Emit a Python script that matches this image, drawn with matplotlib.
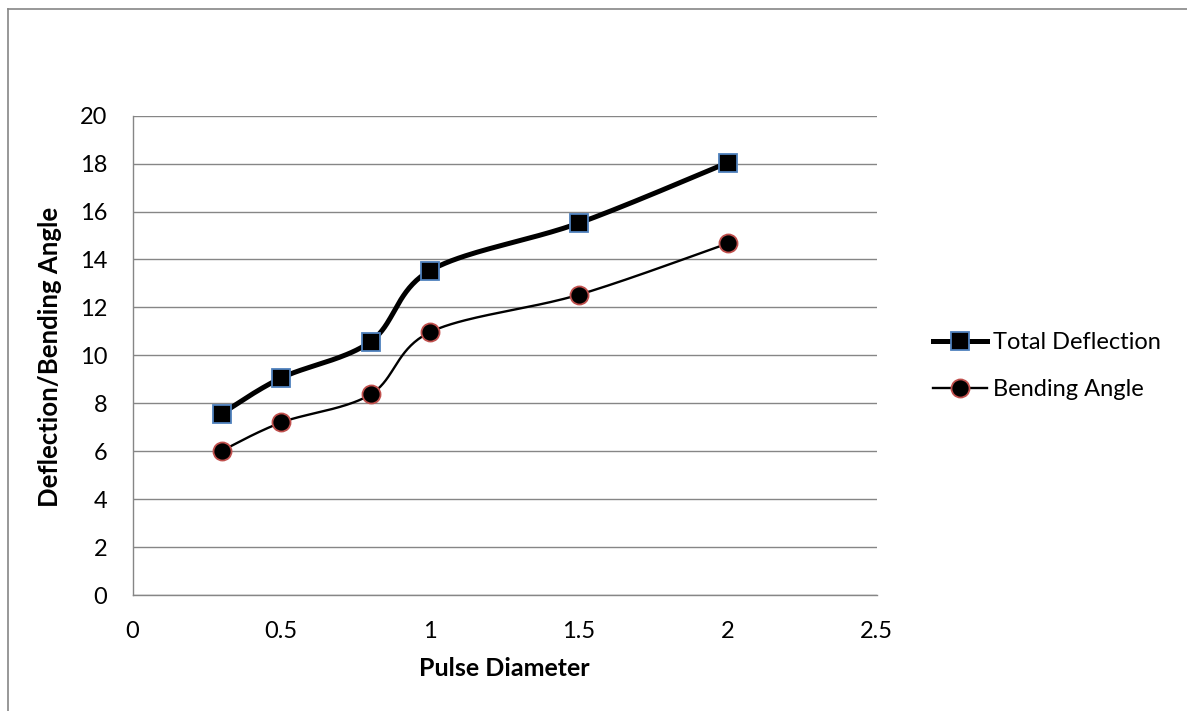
import numpy as np
import matplotlib
matplotlib.use("Agg")
import matplotlib.pyplot as plt
from matplotlib.lines import Line2D

# ---- data ----
pulse_diameter = [0.3, 0.5, 0.8, 1.0, 1.5, 2.0]
total_deflection = [7.57, 9.06, 10.57, 13.54, 15.52, 18.04]
bending_angle = [6.02, 7.2, 8.37, 10.97, 12.53, 14.67]
series_names = ["Total Deflection", "Bending Angle"]
x_ticks = [0, 0.5, 1, 1.5, 2, 2.5]
x_tick_labels = ["0", "0.5", "1", "1.5", "2", "2.5"]
y_ticks = [0, 2, 4, 6, 8, 10, 12, 14, 16, 18, 20]
x_label = "Pulse Diameter"
y_label = "Deflection/Bending Angle"

plt.rcParams['font.family'] = ['Lato', 'DejaVu Sans']

W, H = 1187, 711
fig = plt.figure(figsize=(W / 100, H / 100), dpi=100)
L, R, B, T = 132.5, 876.5, 595.0, 115.7
ax = fig.add_axes([L / W, 1 - B / H, (R - L) / W, (B - T) / H])
ax.set_xlim(0, 2.5)
ax.set_ylim(0, 20)

sx = (R - L) / 2.5
sy = (B - T) / 20.0


def excel_smooth(xs, ys, n=40):
    # Catmull-Rom style bezier smoothing in screen-proportional space
    P = np.column_stack([np.asarray(xs) * sx, np.asarray(ys) * sy])
    out = [P[0]]
    for i in range(len(P) - 1):
        p0 = P[i - 1] if i > 0 else P[i]
        p1 = P[i]
        p2 = P[i + 1]
        p3 = P[i + 2] if i + 2 < len(P) else P[i + 1]
        c1 = p1 + (p2 - p0) / 6.0
        c2 = p2 - (p3 - p1) / 6.0
        t = np.linspace(0, 1, n)[1:, None]
        seg = ((1 - t) ** 3) * p1 + 3 * ((1 - t) ** 2) * t * c1 + 3 * (1 - t) * t ** 2 * c2 + t ** 3 * p2
        out.extend(seg)
    out = np.array(out)
    return out[:, 0] / sx, out[:, 1] / sy


FS = 17
grid_color = "#868686"
for y in y_ticks:
    ax.axhline(y, color=grid_color, lw=1.0, zorder=1)
for s in ["top", "right"]:
    ax.spines[s].set_visible(False)
for s in ["left", "bottom"]:
    ax.spines[s].set_color(grid_color)
    ax.spines[s].set_linewidth(1.0)

ax.set_xticks(x_ticks)
ax.set_xticklabels(x_tick_labels)
ax.set_yticks(y_ticks)
ax.tick_params(length=0, labelsize=FS, colors="black")
ax.tick_params(axis="y", pad=18)
ax.tick_params(axis="x", pad=19)

sxs, sys_ = excel_smooth(pulse_diameter, total_deflection)
ax.plot(sxs, sys_, color="black", lw=3.6, zorder=3, solid_capstyle="round")
ax.plot(pulse_diameter, total_deflection, ls="none", marker="s", ms=12.5,
        mfc="black", mec="#4F81BD", mew=1.3, zorder=4)

bxs, bys = excel_smooth(pulse_diameter, bending_angle)
ax.plot(bxs, bys, color="black", lw=1.7, zorder=3)
ax.plot(pulse_diameter, bending_angle, ls="none", marker="o", ms=13,
        mfc="black", mec="#C0504D", mew=1.3, zorder=4)

fig.text(504.5 / W, 1 - 668 / H, x_label, ha="center", va="center",
         fontsize=18, fontweight="bold")
fig.text(50.5 / W, 1 - 357 / H, y_label, ha="center", va="center",
         fontsize=18.5, fontweight="bold", rotation=90)

handles = [
    Line2D([0], [0], color="black", lw=3.6, marker="s", ms=12.5, mfc="black",
           mec="#4F81BD", mew=1.3),
    Line2D([0], [0], color="black", lw=1.7, marker="o", ms=13, mfc="black",
           mec="#C0504D", mew=1.3),
]
fig.legend(handles, series_names, loc="center left",
           bbox_to_anchor=(933 / W, 1 - 366 / H), frameon=False,
           fontsize=FS, handlelength=2.3, handletextpad=0.25,
           labelspacing=1.12, borderaxespad=0, borderpad=0)

# outer chart border (left and top visible)
fig.add_artist(Line2D([7.5 / W, 7.5 / W], [0, 1 - 8.5 / H], color=grid_color,
                      lw=1.2, transform=fig.transFigure))
fig.add_artist(Line2D([7.5 / W, 1], [1 - 8.5 / H, 1 - 8.5 / H], color=grid_color,
                      lw=1.2, transform=fig.transFigure))

fig.savefig("out.png", dpi=100, facecolor="white")
